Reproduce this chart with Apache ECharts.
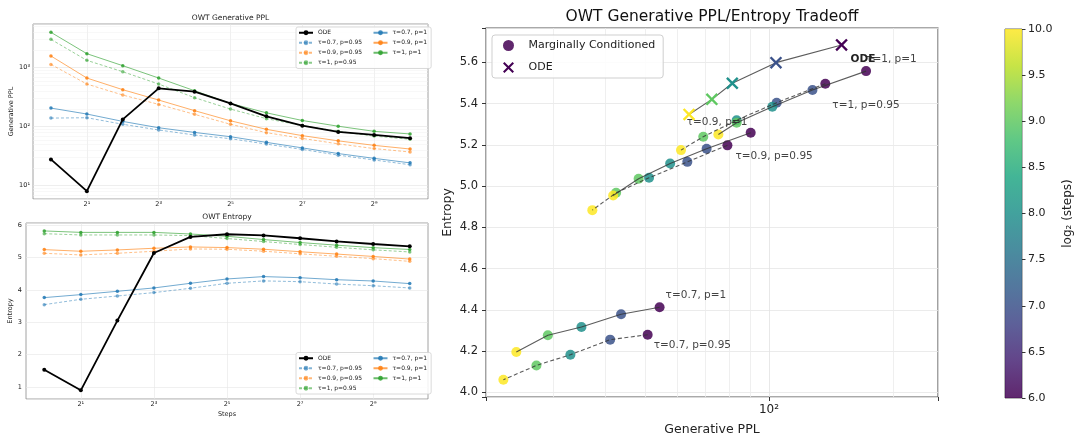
<!DOCTYPE html>
<html><head><meta charset="utf-8">
<script src="https://cdn.jsdelivr.net/npm/echarts@6/dist/echarts.min.js"></script>
<style>html,body{margin:0;padding:0;background:#fff}#c{width:1079px;height:438px}</style>
</head><body><div id="c"></div>
<script>
// ---------------- data ----------------
const steps = [1, 2, 4, 8, 16, 32, 64, 128, 256, 512, 1024];
const xTickSteps = [2, 8, 32, 128, 512];
const seriesNames = ['ODE', 'τ=0.7, p=0.95', 'τ=0.9, p=0.95', 'τ=1, p=0.95', 'τ=0.7, p=1', 'τ=0.9, p=1', 'τ=1, p=1'];

const pplODE     = [27.9, 8.1, 133, 447, 392, 248, 150, 104, 81.5, 72.7, 64];
const pplT07P095 = [140, 142, 110, 88, 72.3, 62.7, 50.8, 41.2, 33.0, 27.3, 22.7];
const pplT09P095 = [1138, 528, 344, 239, 162, 110, 79.3, 63.4, 51.2, 42.6, 37.3];
const pplT1P095  = [3020, 1331, 855, 528, 310, 199, 137, 104.4, 83.5, 69.3, 61.2];
const pplT07P1   = [207, 164, 123, 96, 80, 67.7, 54.3, 43.8, 35.1, 29.1, 24.4];
const pplT09P1   = [1578, 668, 424, 283, 187, 126, 90.3, 70.6, 57.6, 48.3, 41.9];
const pplT1P1    = [3972, 1727, 1081, 668, 407, 248, 172, 127.5, 101.9, 83.5, 75.4];

const entODE     = [1.536, 0.897, 3.052, 5.144, 5.639, 5.722, 5.685, 5.599, 5.499, 5.421, 5.348];
const entT07P095 = [3.546, 3.711, 3.814, 3.918, 4.052, 4.206, 4.280, 4.256, 4.183, 4.131, 4.062];
const entT09P095 = [5.134, 5.082, 5.134, 5.196, 5.268, 5.258, 5.198, 5.118, 5.041, 4.968, 4.884];
const entT1P095  = [5.740, 5.700, 5.700, 5.700, 5.680, 5.590, 5.497, 5.405, 5.320, 5.240, 5.175];
const entT07P1   = [3.763, 3.856, 3.959, 4.062, 4.206, 4.340, 4.413, 4.379, 4.317, 4.277, 4.196];
const entT09P1   = [5.247, 5.196, 5.237, 5.289, 5.330, 5.310, 5.259, 5.182, 5.110, 5.036, 4.955];
const entT1P1    = [5.825, 5.780, 5.780, 5.780, 5.730, 5.660, 5.558, 5.466, 5.385, 5.308, 5.251];

const tradeoffFirstIndex = 6;   // tradeoff plot uses steps 64..1024
const colorbarTicks = [6, 6.5, 7, 7.5, 8, 8.5, 9, 9.5, 10];

// ---------------- styling ----------------
const F = 'DejaVu Sans';
const pplSets = [pplODE, pplT07P095, pplT09P095, pplT1P095, pplT07P1, pplT09P1, pplT1P1];
const entSets = [entODE, entT07P095, entT09P095, entT1P095, entT07P1, entT09P1, entT1P1];
const styleOf = {
  'ODE': {color: '#000000', dashed: false, ode: true},
  'τ=0.7, p=0.95': {color: '#1f77b4', dashed: true},
  'τ=0.9, p=0.95': {color: '#ff7f0e', dashed: true},
  'τ=1, p=0.95': {color: '#2ca02c', dashed: true},
  'τ=0.7, p=1': {color: '#1f77b4', dashed: false},
  'τ=0.9, p=1': {color: '#ff7f0e', dashed: false},
  'τ=1, p=1': {color: '#2ca02c', dashed: false}
};
const labelCfg = {
  'ODE': [9, 14.3],
  'τ=0.7, p=0.95': [6, 11],
  'τ=0.7, p=1': [6, -12],
  'τ=0.9, p=0.95': [8, 10.7],
  'τ=0.9, p=1': [-64, -10.6],
  'τ=1, p=0.95': [7, 22],
  'τ=1, p=1': [0, -12]
};
const viridis = ['#440154', '#482475', '#414487', '#355f8d', '#2a788e', '#21918c', '#22a884', '#44bf70', '#7ad151', '#bddf26', '#fde725'];
const SUP = {'0':'⁰','1':'¹','2':'²','3':'³','4':'⁴','5':'⁵','6':'⁶','7':'⁷','8':'⁸','9':'⁹','-':'⁻'};
const supStr = n => String(n).split('').map(c => SUP[c]).join('');
function powLabel(base, filterOdd) {
  return function (v) {
    const e = Math.log(v) / Math.log(base);
    const r = Math.round(e);
    if (Math.abs(e - r) > 1e-6) return '';
    if (filterOdd && Math.abs(r % 2) !== 1) return '';
    return base + supStr(r);
  };
}
const XPATH = 'path://M0,1.6 L1.6,0 L6,4.4 L10.4,0 L12,1.6 L7.6,6 L12,10.4 L10.4,12 L6,7.6 L1.6,12 L0,10.4 L4.4,6 Z';

const series = [];
function gridLineSeries(xi, yi, xs, ys, color, width) {
  const d = [];
  xs.forEach(v => d.push({xAxis: v}));
  ys.forEach(v => d.push({yAxis: v}));
  series.push({
    type: 'line', xAxisIndex: xi, yAxisIndex: yi, data: [], silent: true,
    markLine: {silent: true, symbol: ['none', 'none'], z: 1, animation: false, label: {show: false},
      lineStyle: {color: color, width: width, type: 'solid'}, emphasis: {disabled: true}, data: d}
  });
}
// gridlines
const pplMinor = [];
[0, 1, 2, 3].forEach(k => { for (let m = 2; m <= 9; m++) { const v = m * Math.pow(10, k); if (v > 5.96 && v < 5500) pplMinor.push(v); } });
gridLineSeries(0, 0, xTickSteps, [], '#e6e6e6', 0.6);
gridLineSeries(0, 0, [], pplMinor, '#f1f1f1', 0.5);
gridLineSeries(1, 1, xTickSteps, [], '#e6e6e6', 0.6);
gridLineSeries(2, 2, [30, 40, 50, 60, 70, 80, 90, 200], [], '#ebebeb', 0.8);

// left plots
const drawOrder = [1, 2, 3, 4, 5, 6, 0];
[[0, pplSets], [1, entSets]].forEach(([g, sets]) => {
  drawOrder.forEach(k => {
    const name = seriesNames[k];
    const st = styleOf[name];
    series.push({
      type: 'line', name: name, xAxisIndex: g, yAxisIndex: g,
      data: steps.map((s, i) => [s, sets[k][i]]),
      symbol: 'circle', symbolSize: st.ode ? 4 : 3.5, showSymbol: true,
      z: st.ode ? 4 : 3, animation: false,
      lineStyle: {color: st.color, width: st.ode ? 1.8 : 0.9, type: st.dashed ? [3, 2] : 'solid', opacity: st.ode ? 1 : (st.dashed ? 0.55 : 0.7)},
      itemStyle: {color: st.color, opacity: st.ode ? 1 : (st.dashed ? 0.6 : 0.85)},
      emphasis: {disabled: true}
    });
  });
});

// tradeoff plot
const scatterIdx = [];
const tradeOrder = [1, 4, 2, 5, 3, 6, 0];
tradeOrder.forEach(k => {
  const name = seriesNames[k];
  const st = styleOf[name];
  const idx = steps.map((s, i) => i).filter(i => i >= tradeoffFirstIndex);
  series.push({
    type: 'line', name: 'line ' + name, xAxisIndex: 2, yAxisIndex: 2, z: 5, animation: false,
    data: idx.map(i => [pplSets[k][i], entSets[k][i]]), showSymbol: false, symbol: 'none', silent: true,
    lineStyle: {color: '#333', width: 1.1, opacity: 0.8, type: st.dashed ? [4, 2.5] : 'solid'}
  });
  scatterIdx.push(series.length);
  series.push({
    type: 'scatter', name: st.ode ? 'ODE (tradeoff)' : 'Marginally Conditioned', xAxisIndex: 2, yAxisIndex: 2,
    z: st.ode ? 6 : 4, animation: false, symbolKeepAspect: true,
    symbol: st.ode ? XPATH : 'circle', symbolSize: st.ode ? 12.5 : 10,
    itemStyle: {color: '#440154', opacity: st.ode ? 1 : 0.85},
    emphasis: {disabled: true},
    data: idx.map(i => {
      const item = {value: [pplSets[k][i], entSets[k][i], Math.log2(steps[i])]};
      if (i === tradeoffFirstIndex) {
        item.label = {show: true, position: 'inside', align: 'left', verticalAlign: 'middle',
          offset: labelCfg[name], formatter: name, color: '#222', fontFamily: F, fontSize: 10.5,
          fontWeight: st.ode ? 'bold' : 'normal', textBorderWidth: 0};
      }
      return item;
    })
  });
});

// colorbar
series.push({type: 'bar', xAxisIndex: 3, yAxisIndex: 3, stack: 'cb', data: [6], barWidth: '100%', silent: true, animation: false,
  itemStyle: {color: 'rgba(0,0,0,0)'}});
series.push({type: 'bar', xAxisIndex: 3, yAxisIndex: 3, stack: 'cb', data: [4], barWidth: '100%', silent: true, animation: false,
  itemStyle: {opacity: 0.85, color: new echarts.graphic.LinearGradient(0, 0, 0, 1,
    viridis.slice().reverse().map((c, i) => ({offset: i / (viridis.length - 1), color: c})))}});

const tickStyle = {fontFamily: F, fontSize: 6.5, color: '#222'};
const logX2 = g => ({
  type: 'log', logBase: 2, gridIndex: g, min: Math.pow(2, -0.5), max: Math.pow(2, 10.5), interval: 0.5,
  axisLine: {show: false}, axisTick: {show: false}, splitLine: {show: false},
  axisLabel: Object.assign({formatter: powLabel(2, true), margin: 2}, tickStyle)
});

const legendLeft = top => ({
  left: 296, top: top, orient: 'vertical', height: 39, padding: [2, 4, 2, 2], itemGap: 2.5,
  itemWidth: 14, itemHeight: 6, backgroundColor: 'rgba(255,255,255,0.85)', borderColor: '#d0d0d0',
  borderWidth: 0.8, borderRadius: 2,
  textStyle: {fontFamily: F, fontSize: 6, color: '#222', lineHeight: 7.5},
  data: seriesNames.map((n, i) => i < 4 ? {name: n, textStyle: {width: 52}} : {name: n})
});

const gridBase = {show: true, containLabel: false, outerBoundsMode: 'none', backgroundColor: 'transparent'};
const option = {
  animation: false,
  backgroundColor: '#fff',
  textStyle: {fontFamily: F},
  grid: [
    Object.assign({left: 33, top: 24, width: 395, height: 175, borderColor: '#8a8a8a', borderWidth: 0.8}, gridBase),
    Object.assign({left: 26, top: 223, width: 402, height: 176, borderColor: '#8a8a8a', borderWidth: 0.8}, gridBase),
    Object.assign({left: 486, top: 28, width: 452, height: 369, borderColor: '#555', borderWidth: 1.1}, gridBase),
    Object.assign({left: 1005, top: 29, width: 17, height: 369, borderColor: '#444', borderWidth: 0.8}, gridBase)
  ],
  xAxis: [
    logX2(0),
    Object.assign(logX2(1), {name: 'Steps', nameLocation: 'middle', nameGap: 11.5, nameTextStyle: {fontFamily: F, fontSize: 6.5, color: '#222'}}),
    {type: 'log', logBase: 10, gridIndex: 2, min: 20.6, max: 257,
      axisLine: {show: false}, axisTick: {show: true, length: 4, lineStyle: {color: '#333'}},
      splitLine: {show: true, lineStyle: {color: '#e2e2e2', width: 0.8}},
      axisLabel: {formatter: powLabel(10, false), margin: 7, fontFamily: F, fontSize: 12, color: '#222'},
      name: 'Generative PPL', nameLocation: 'middle', nameGap: 26.5, nameTextStyle: {fontFamily: F, fontSize: 12.5, color: '#222'}},
    {type: 'category', gridIndex: 3, data: ['c'], show: false}
  ],
  yAxis: [
    {type: 'log', logBase: 10, gridIndex: 0, min: 5.96, max: 5500,
      axisLine: {show: false}, axisTick: {show: false},
      splitLine: {show: true, lineStyle: {color: '#e2e2e2', width: 0.6}},
      axisLabel: Object.assign({formatter: powLabel(10, false), margin: 3}, tickStyle),
      name: 'Generative PPL', nameLocation: 'middle', nameGap: 16.5, nameTextStyle: {fontFamily: F, fontSize: 6.5, color: '#222'}},
    {type: 'value', gridIndex: 1, min: 0.629, max: 6.07, splitNumber: 5,
      axisLine: {show: false}, axisTick: {show: false},
      splitLine: {show: true, lineStyle: {color: '#e6e6e6', width: 0.6}},
      axisLabel: Object.assign({formatter: v => Math.abs(v - Math.round(v)) < 1e-6 ? String(Math.round(v)) : '', margin: 4}, tickStyle),
      name: 'Entropy', nameLocation: 'middle', nameGap: 8.5, nameTextStyle: {fontFamily: F, fontSize: 6.5, color: '#222'}},
    {type: 'value', gridIndex: 2, min: 3.978, max: 5.767, splitNumber: 9,
      axisLine: {show: false}, axisTick: {show: true, length: 4, lineStyle: {color: '#333'}},
      splitLine: {show: true, lineStyle: {color: '#e6e6e6', width: 0.8}},
      axisLabel: {formatter: v => Math.abs(v * 5 - Math.round(v * 5)) < 1e-6 ? v.toFixed(1) : '', margin: 8, fontFamily: F, fontSize: 11.5, color: '#222'},
      name: 'Entropy', nameLocation: 'middle', nameGap: 31.5, nameTextStyle: {fontFamily: F, fontSize: 12.5, color: '#222'}},
    {type: 'value', gridIndex: 3, min: 6, max: 10, interval: 0.5, position: 'right',
      axisLine: {show: false}, axisTick: {show: true, length: 3.5, lineStyle: {color: '#333'}},
      splitLine: {show: false},
      axisLabel: {formatter: v => colorbarTicks.indexOf(v) >= 0 ? v.toFixed(1) : '', margin: 6, fontFamily: F, fontSize: 11, color: '#222'},
      name: 'log₂ (steps)', nameLocation: 'middle', nameRotate: 90, nameGap: 40, nameTextStyle: {fontFamily: F, fontSize: 12, color: '#222'}}
  ],
  visualMap: [{type: 'continuous', show: false, min: 6, max: 10, dimension: 2, seriesIndex: scatterIdx, inRange: {color: viridis}}],
  legend: [
    legendLeft(27),
    legendLeft(352.5),
    {left: 492, top: 35, orient: 'vertical', padding: [4.5, 8, 4.5, 11], itemGap: 10, itemWidth: 30, itemHeight: 11,
      backgroundColor: 'rgba(255,255,255,0.85)', borderColor: '#cfcfcf', borderWidth: 1, borderRadius: 3,
      textStyle: {fontFamily: F, fontSize: 11, color: '#222', lineHeight: 12},
      formatter: n => n.replace(' (tradeoff)', ''),
      data: [{name: 'Marginally Conditioned', icon: 'circle'}, {name: 'ODE (tradeoff)', icon: XPATH}]}
  ],
  graphic: [
    {type: 'text', x: 230.5, y: 18, style: {text: 'OWT Generative PPL', font: '7.5px "DejaVu Sans"', fill: '#222', align: 'center', verticalAlign: 'middle'}},
    {type: 'text', x: 227, y: 217, style: {text: 'OWT Entropy', font: '7.5px "DejaVu Sans"', fill: '#222', align: 'center', verticalAlign: 'middle'}},
    {type: 'text', x: 712, y: 17, style: {text: 'OWT Generative PPL/Entropy Tradeoff', font: '15.5px "DejaVu Sans"', fill: '#111', align: 'center', verticalAlign: 'middle'}}
  ],
  series: series
};
const chart = echarts.init(document.getElementById('c'), null, {renderer: 'canvas'});
chart.setOption(option);
</script></body></html>
